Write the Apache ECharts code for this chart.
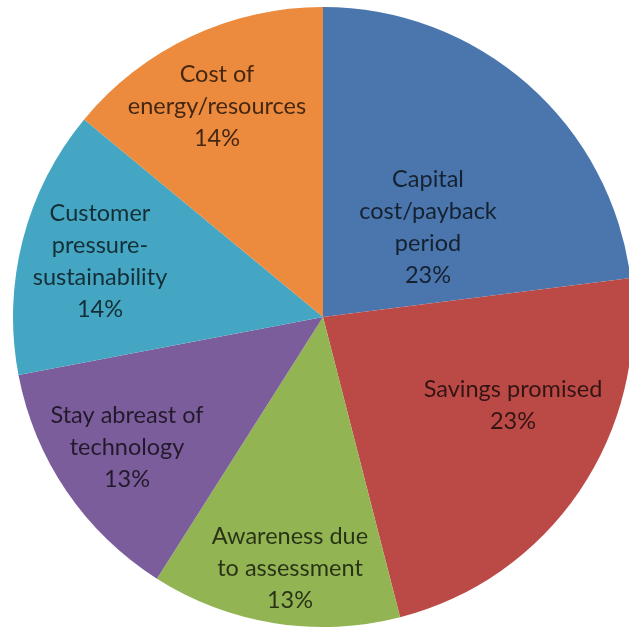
<!DOCTYPE html>
<html>
<head>
<meta charset="utf-8">
<script src="https://cdn.jsdelivr.net/npm/echarts@6/dist/echarts.min.js"></script>
<style>
  html, body { margin: 0; padding: 0; background: #ffffff; }
  #chart { width: 629px; height: 630px; }
</style>
</head>
<body>
<div id="chart"></div>
<script>
// Reasons for adopting the measures, share of responses (%)
const categories = [
  'Capital\ncost/payback\nperiod',
  'Savings promised',
  'Awareness due\nto assessment',
  'Stay abreast of\ntechnology',
  'Customer\npressure-\nsustainability',
  'Cost of\nenergy/resources'
];
const values = [23, 23, 13, 13, 14, 14];

const sliceColors = ['#4a76ad', '#bb4a47', '#92b452', '#7b5d9c', '#44a6c2', '#ec8a3d'];

// Label centres, as offsets in pixels from the pie centre
const labelOffsets = [
  [105, -90],
  [190, 88],
  [-33, 251],
  [-196, 130],
  [-223, -56],
  [-106, -211]
];

const centerX = 323, centerY = 317, radius = 310;

const chart = echarts.init(document.getElementById('chart'), null, { renderer: 'canvas' });

chart.setOption({
  animation: false,
  backgroundColor: '#ffffff',
  series: [{
    type: 'pie',
    center: [centerX, centerY],
    radius: [0, radius],
    startAngle: 90,
    clockwise: true,
    avoidLabelOverlap: false,
    itemStyle: { borderWidth: 0 },
    label: {
      show: true,
      position: 'inside',
      formatter: p => p.name + '\n' + p.value + '%',
      fontFamily: 'Lato, "Open Sans", sans-serif',
      fontSize: 23.5,
      lineHeight: 32,
      color: 'rgba(0,0,0,0.72)',
      align: 'center',
      verticalAlign: 'middle'
    },
    labelLine: { show: false },
    labelLayout: params => {
      const off = labelOffsets[params.dataIndex];
      return { x: centerX + off[0], y: centerY + off[1], align: 'center', verticalAlign: 'middle' };
    },
    data: categories.map((name, i) => ({
      name: name,
      value: values[i],
      itemStyle: { color: sliceColors[i] }
    }))
  }]
});
</script>
</body>
</html>
